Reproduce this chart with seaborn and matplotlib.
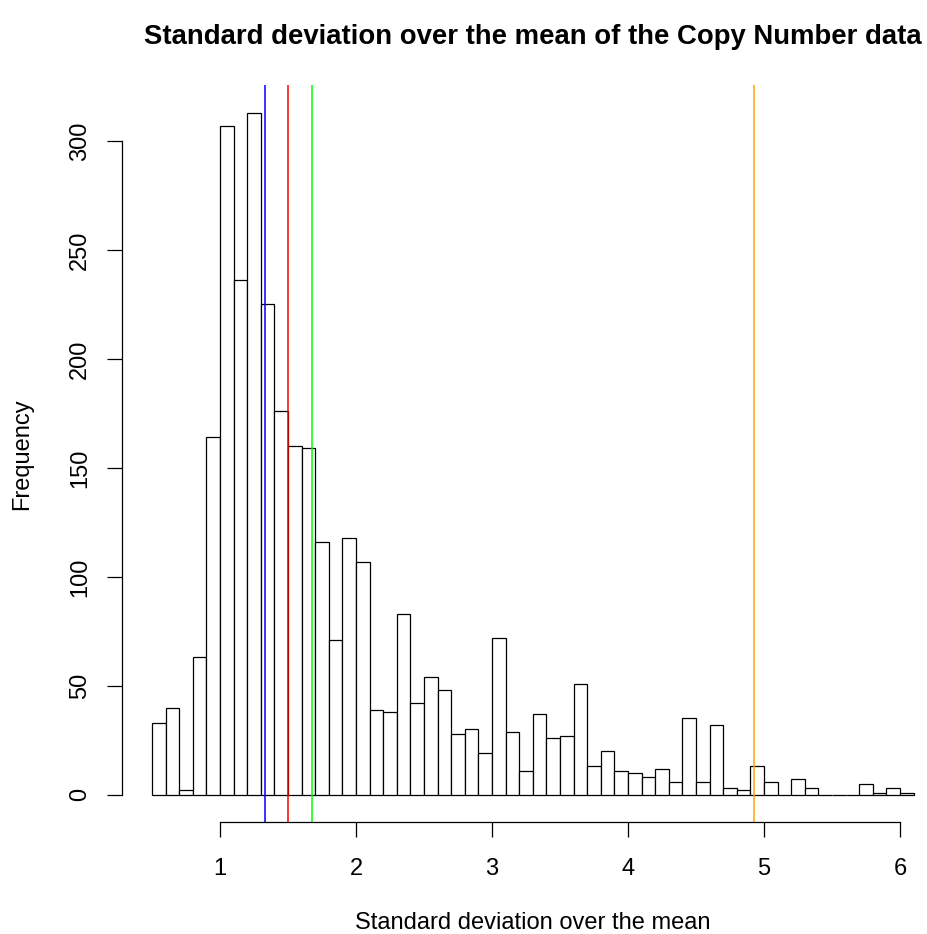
import numpy as np
import pandas as pd
import matplotlib
matplotlib.use("Agg")
import matplotlib.pyplot as plt
import seaborn as sns

# -----------------------------
# Data (bin width 0.1, from 0.5 to 6.1)
# -----------------------------
bin_start = 0.5
bin_width = 0.1
counts = [33, 40, 2, 63, 164, 307, 236, 313, 225, 176,
          160, 159, 116, 71, 118, 107, 39, 38, 83, 42,
          54, 48, 28, 30, 19, 72, 29, 11, 37, 26,
          27, 51, 13, 20, 11, 10, 8, 12, 6, 35,
          6, 32, 3, 2, 13, 6, 0, 7, 3, 0,
          0, 0, 5, 1, 3, 1]
line_values = [1.331, 1.50, 1.674, 4.926]
line_colors = ["#0000FF", "#FF0000", "#00FF00", "#FFA500"]
x_ticks = [1, 2, 3, 4, 5, 6]
y_ticks = [0, 50, 100, 150, 200, 250, 300]

edges = np.round(bin_start + bin_width * np.arange(len(counts) + 1), 3)
df = pd.DataFrame({"sd_over_mean": (edges[:-1] + edges[1:]) / 2, "n": counts})

# -----------------------------
# Figure setup (base-R look)
# -----------------------------
sns.set_style("ticks")
plt.rcParams["font.family"] = ["Liberation Sans", "DejaVu Sans"]
plt.rcParams["text.color"] = "black"
plt.rcParams["axes.labelcolor"] = "black"
plt.rcParams["xtick.color"] = "black"
plt.rcParams["ytick.color"] = "black"
plt.rcParams["axes.edgecolor"] = "black"

fig = plt.figure(figsize=(9.27, 9.34), dpi=100)
ax = fig.add_axes([121.5 / 927, 112 / 934, 822.5 / 927, 736.6 / 934])

sns.histplot(data=df, x="sd_over_mean", weights="n", bins=edges.tolist(),
             color="white", edgecolor="black", linewidth=0.9, alpha=1,
             ax=ax)

for v, c in zip(line_values, line_colors):
    ax.axvline(v, color=c, linewidth=1.1)

# R-style axis ranges (4% padding)
xr = edges[-1] - edges[0]
ax.set_xlim(edges[0] - 0.04 * xr, edges[-1] + 0.04 * xr)
ymax = max(counts)
ax.set_ylim(-0.04 * ymax, ymax * 1.04)

ax.spines["top"].set_visible(False)
ax.spines["right"].set_visible(False)
ax.spines["left"].set_bounds(y_ticks[0], y_ticks[-1])
ax.spines["bottom"].set_bounds(x_ticks[0], x_ticks[-1])
ax.spines["left"].set_linewidth(0.9)
ax.spines["bottom"].set_linewidth(0.9)

ax.set_xticks(x_ticks)
ax.set_yticks(y_ticks)
ax.tick_params(axis="both", direction="out", length=10.8, width=0.9,
               labelsize=17, color="black", labelcolor="black")
ax.tick_params(axis="x", pad=15)
ax.tick_params(axis="y", pad=11)
for lab in ax.get_yticklabels():
    lab.set_rotation(90)
    lab.set_va("center")

ax.set_title("Standard deviation over the mean of the Copy Number data",
             fontsize=19.8, fontweight="bold", pad=0, y=1.066, va="center")
ax.set_xlabel("Standard deviation over the mean", fontsize=17)
ax.set_ylabel("Frequency", fontsize=17)
ax.xaxis.set_label_coords(0.5, -0.1375)
ax.xaxis.label.set_va("center")
ax.yaxis.set_label_coords(-0.121, 0.5)
ax.yaxis.label.set_va("center")

fig.savefig("out.png", dpi=100, facecolor="white")
plt.close(fig)
